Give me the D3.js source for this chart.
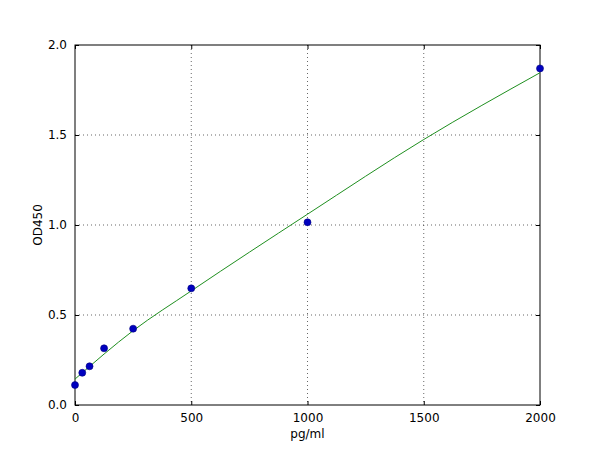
<!DOCTYPE html>
<html>
<head>
<meta charset="utf-8">
<script src="https://cdn.jsdelivr.net/npm/d3@7"></script>
<style>
  body { margin: 0; background: #fff; }
  text { font-family: "DejaVu Sans", sans-serif; }
</style>
</head>
<body>
<script>
const w = 600;
const h = 450;
const margin = {top: 45, right: 60, bottom: 45, left: 75};

// standards (pg/ml) and measured OD450
const conc = [0, 31.25, 62.5, 125, 250, 500, 1000, 2000];
const od = [0.111, 0.179, 0.215, 0.315, 0.424, 0.648, 1.015, 1.87];

// fitted curve
const fitX = [0, 250, 500, 1000, 1500, 2000];
const fitY = [0.144, 0.413, 0.634, 1.06, 1.475, 1.846];

const xTicks = [0, 500, 1000, 1500, 2000];
const yTicks = [0.0, 0.5, 1.0, 1.5, 2.0];

const xScale = d3.scaleLinear().domain([0, 2000]).range([margin.left, w - margin.right]);
const yScale = d3.scaleLinear().domain([0, 2]).range([h - margin.bottom, margin.top]);

const svg = d3.select("body").append("svg")
  .attr("width", w)
  .attr("height", h);

// grid
svg.append("g")
  .selectAll("line")
  .data(xTicks.slice(1, -1))
  .enter().append("line")
  .attr("x1", d => xScale(d)).attr("x2", d => xScale(d))
  .attr("y1", margin.top).attr("y2", h - margin.bottom)
  .attr("stroke", "#000").attr("stroke-width", 0.6)
  .attr("stroke-dasharray", "1,3");

svg.append("g")
  .selectAll("line")
  .data(yTicks.slice(1, -1))
  .enter().append("line")
  .attr("y1", d => yScale(d)).attr("y2", d => yScale(d))
  .attr("x1", margin.left).attr("x2", w - margin.right)
  .attr("stroke", "#000").attr("stroke-width", 0.6)
  .attr("stroke-dasharray", "1,3");

// axes, ticks pointing inward on all four sides
const fmtX = d3.format("d");
const fmtY = d3.format(".1f");
const xAxis = d3.axisBottom(xScale).tickValues(xTicks).tickFormat(fmtX).tickSizeInner(-4).tickSizeOuter(0).tickPadding(8);
const yAxis = d3.axisLeft(yScale).tickValues(yTicks).tickFormat(fmtY).tickSizeInner(-4).tickSizeOuter(0).tickPadding(8);
const xTop = d3.axisTop(xScale).tickValues(xTicks).tickSizeInner(-4).tickSizeOuter(0).tickFormat("");
const yRight = d3.axisRight(yScale).tickValues(yTicks).tickSizeInner(-4).tickSizeOuter(0).tickFormat("");

svg.append("g").attr("transform", "translate(0," + (h - margin.bottom) + ")").call(xAxis);
svg.append("g").attr("transform", "translate(" + margin.left + ",0)").call(yAxis);
svg.append("g").attr("transform", "translate(0," + margin.top + ")").call(xTop);
svg.append("g").attr("transform", "translate(" + (w - margin.right) + ",0)").call(yRight);

svg.selectAll(".domain").remove();
svg.selectAll(".tick line").attr("stroke", "#000");
svg.selectAll(".tick text").attr("font-size", 12).attr("fill", "#000")
  .attr("font-family", "DejaVu Sans, sans-serif");

// frame
svg.append("rect")
  .attr("x", margin.left).attr("y", margin.top)
  .attr("width", w - margin.left - margin.right)
  .attr("height", h - margin.top - margin.bottom)
  .attr("fill", "none").attr("stroke", "#000").attr("stroke-width", 1);

// fit curve
const line = d3.line()
  .x((d, i) => xScale(fitX[i]))
  .y(d => yScale(d))
  .curve(d3.curveMonotoneX);

svg.append("path")
  .datum(fitY)
  .attr("d", line)
  .attr("fill", "none")
  .attr("stroke", "#1f8f1f")
  .attr("stroke-width", 1);

// points
svg.append("g")
  .selectAll("circle")
  .data(od)
  .enter().append("circle")
  .attr("cx", (d, i) => xScale(conc[i]))
  .attr("cy", d => yScale(d))
  .attr("r", 3.5)
  .attr("fill", "#0000bf")
  .attr("stroke", "#00007f")
  .attr("stroke-width", 0.6);

// axis labels
svg.append("text")
  .attr("x", (margin.left + w - margin.right) / 2)
  .attr("y", 438)
  .attr("text-anchor", "middle")
  .attr("font-size", 12)
  .text("pg/ml");

svg.append("text")
  .attr("transform", "translate(42," + (margin.top + h - margin.bottom) / 2 + ") rotate(-90)")
  .attr("text-anchor", "middle")
  .attr("font-size", 12)
  .text("OD450");
</script>
</body>
</html>
